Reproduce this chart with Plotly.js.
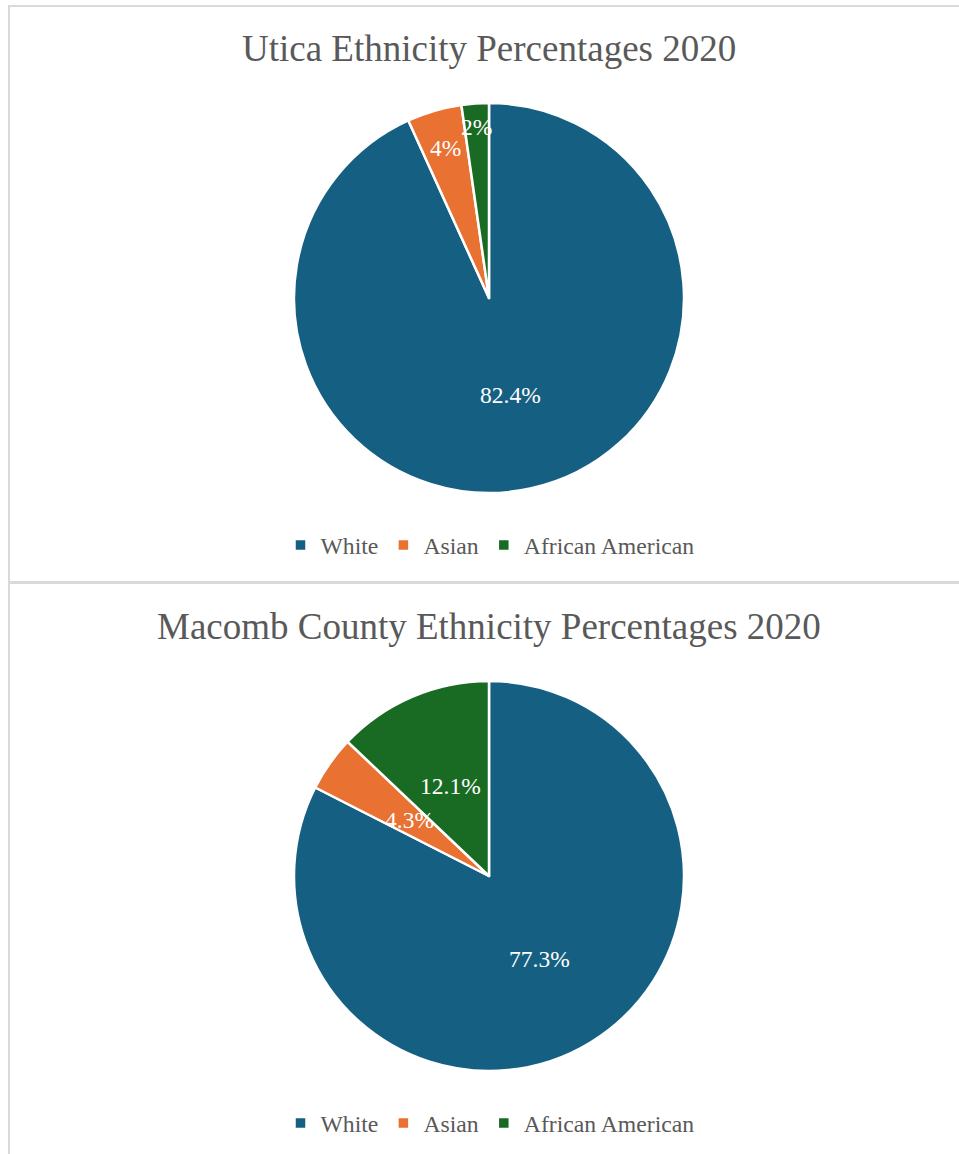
<!DOCTYPE html>
<html>
<head>
<meta charset="utf-8">
<script src="https://cdn.plot.ly/plotly-3.0.1.min.js"></script>
<style>
  html, body { margin: 0; padding: 0; background: #ffffff; overflow: hidden; }
  #chart { width: 959px; height: 1154px; }
</style>
</head>
<body>
<div id="chart"></div>
<script>
// ---- data ----
const categories = ["White", "Asian", "African American"];
const uticaValues = [82.4, 4, 2];
const macombValues = [77.3, 4.3, 12.1];
const uticaTitle = "Utica Ethnicity Percentages 2020";
const macombTitle = "Macomb County Ethnicity Percentages 2020";
const sliceColors = ["#156082", "#E97132", "#196B24"];

// ---- layout helpers ----
const W = 959, H = 1154;
const FONT = "Liberation Serif";
const GRAY = "#595959";
const X = px => px / W;
const Y = py => 1 - py / H;

const pie1 = {cx: 489, cy: 298, r: 195};
const pie2 = {cx: 489, cy: 876, r: 195};
const uticaLabelRadius = [0.51, 0.80, 0.88];
const macombLabelRadius = [0.5, 0.5, 0.5];

function pieTrace(values, pie, legendId, group) {
  return {
    type: "pie",
    labels: categories,
    values: values,
    sort: false,
    direction: "clockwise",
    rotation: 0,
    textinfo: "none",
    hoverinfo: "none",
    marker: {colors: sliceColors, line: {color: "#ffffff", width: 2.5}},
    domain: {x: [X(pie.cx - pie.r), X(pie.cx + pie.r)], y: [Y(pie.cy + pie.r), Y(pie.cy - pie.r)]},
    legend: legendId,
    legendgroup: group,
    showlegend: true
  };
}

function labelAnnotations(values, pie, radii) {
  const total = values.reduce((a, b) => a + b, 0);
  let cum = 0;
  return values.map((v, i) => {
    const mid = (cum + v / 2) / total * 2 * Math.PI;
    cum += v;
    const rr = radii[i] * pie.r;
    return {
      xref: "paper", yref: "paper",
      x: X(pie.cx + rr * Math.sin(mid)),
      y: Y(pie.cy - rr * Math.cos(mid)),
      xanchor: "center", yanchor: "middle",
      text: v + "%",
      showarrow: false,
      font: {family: FONT, size: 23.5, color: "#ffffff"}
    };
  });
}

const titleAnns = [
  {xref: "paper", yref: "paper", x: X(489), y: Y(48.7), xanchor: "center", yanchor: "middle",
   text: uticaTitle, showarrow: false, font: {family: FONT, size: 37, color: GRAY}},
  {xref: "paper", yref: "paper", x: X(489), y: Y(626), xanchor: "center", yanchor: "middle",
   text: macombTitle, showarrow: false, font: {family: FONT, size: 37, color: GRAY}}
];

const borderColor = "#d9d9d9";
function rect(x0, y0, x1, y1) {
  return {type: "rect", xref: "paper", yref: "paper", x0: X(x0), x1: X(x1), y0: Y(y1), y1: Y(y0),
          fillcolor: borderColor, line: {width: 0}, layer: "below"};
}

const legendCommon = {
  orientation: "h",
  traceorder: "normal",
  xanchor: "center",
  yanchor: "middle",
  x: X(490),
  font: {family: FONT, size: 23.7, color: GRAY},
  bgcolor: "rgba(0,0,0,0)",
  itemclick: false,
  itemdoubleclick: false
};

const data = [
  pieTrace(uticaValues, pie1, "legend", "utica"),
  pieTrace(macombValues, pie2, "legend2", "macomb")
];

const layout = {
  width: W, height: H,
  margin: {l: 0, r: 0, t: 0, b: 0, autoexpand: false},
  paper_bgcolor: "#ffffff",
  plot_bgcolor: "#ffffff",
  font: {family: FONT, color: GRAY},
  showlegend: true,
  legend: Object.assign({}, legendCommon, {y: Y(545)}),
  legend2: Object.assign({}, legendCommon, {y: Y(1123)}),
  annotations: titleAnns
    .concat(labelAnnotations(uticaValues, pie1, uticaLabelRadius))
    .concat(labelAnnotations(macombValues, pie2, macombLabelRadius)),
  shapes: [
    rect(8, 5, 970, 7),       // top border
    rect(8, 5, 10, 1154),     // left border
    rect(8, 581, 970, 584)    // separator between the two charts
  ]
};

Plotly.newPlot("chart", data, layout, {displayModeBar: false, staticPlot: true});
</script>
</body>
</html>
